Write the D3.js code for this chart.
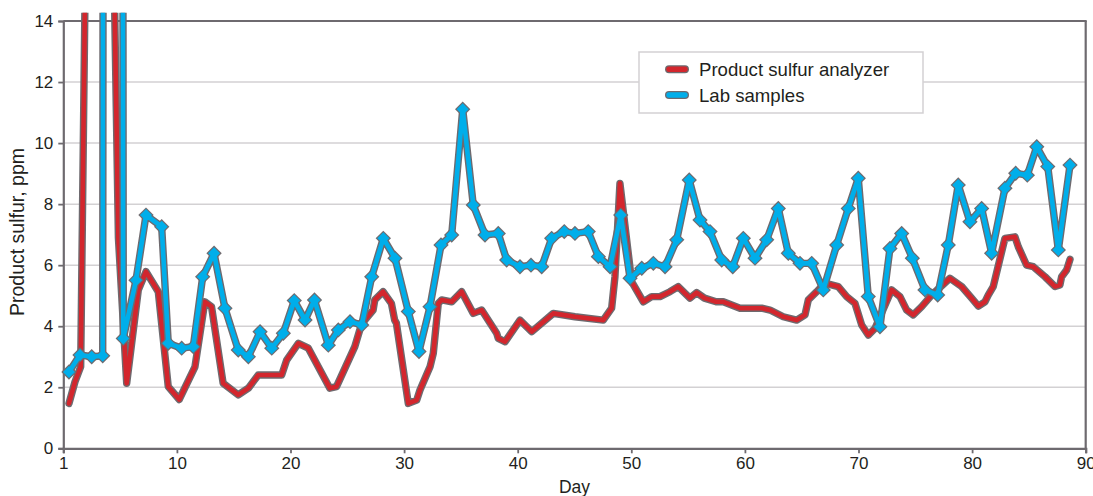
<!DOCTYPE html>
<html>
<head>
<meta charset="utf-8">
<script src="https://cdn.jsdelivr.net/npm/d3@7/dist/d3.min.js"></script>
<style>
  html, body { margin: 0; padding: 0; background: #fff; }
  svg { display: block; font-family: "Liberation Sans", Arial, Helvetica, sans-serif; }
</style>
</head>
<body>
<svg id="chart" width="1093" height="496"></svg>
<script>
// ---- data ----
const xTickValues = [0, 10, 20, 30, 40, 50, 60, 70, 80, 90];
const xTickLabels = ["1", "10", "20", "30", "40", "50", "60", "70", "80", "90"];
const yTickValues = [0, 2, 4, 6, 8, 10, 12, 14];

const seriesNames = ["Product sulfur analyzer", "Lab samples"];

// Product sulfur analyzer (values above 14 are off scale)
const analyzerDays = [0.5, 1.03, 1.53, 1.95, 4.45, 4.85, 5.58, 6.6, 7.28, 8.36, 9.24, 10.21, 11.59, 12.46, 13.05,
  14.07, 15.4, 16.29, 17.16, 19.22, 19.66, 20.69, 21.57, 23.46, 24.05, 25.66, 26.1, 26.54, 27.27, 27.42,
  28.15, 28.88, 29.17, 29.32, 30.37, 31.11, 31.4, 32.28, 32.57, 33.01, 33.31, 34.19, 35.07, 36.09, 36.83,
  38.15, 38.29, 38.88, 40.2, 41.23, 43.13, 45.04, 47.53, 48.27, 48.56, 49.0, 50.03, 51.06, 51.79, 52.52,
  53.4, 54.13, 55.16, 55.75, 56.44, 57.47, 58.1, 59.57, 61.48, 62.21, 63.38, 64.56, 65.29, 65.58, 66.32,
  67.04, 68.22, 68.96, 69.69, 70.28, 70.86, 71.45, 72.92, 73.65, 74.24, 74.82, 75.56, 76.44, 78.05, 79.08,
  79.96, 80.55, 81.13, 81.42, 81.86, 82.89, 83.77, 84.07, 84.8, 85.39, 86.42, 87.3, 87.73, 87.88, 88.32, 88.62];
const analyzerValues = [1.47, 2.18, 2.67, 16, 16, 6.9, 2.13, 5.18, 5.79, 5.13, 2.02, 1.6, 2.67, 4.8, 4.64,
  2.13, 1.75, 1.97, 2.4, 2.4, 2.89, 3.44, 3.28, 1.97, 2.02, 3.33, 3.88, 4.2, 4.53, 4.86,
  5.13, 4.75, 4.2, 4.1, 1.47, 1.58, 1.91, 2.67, 3.11, 4.75, 4.86, 4.8, 5.13, 4.42, 4.53,
  3.77, 3.6, 3.49, 4.2, 3.82, 4.42, 4.31, 4.2, 4.59, 5.62, 8.68, 5.46, 4.8, 4.97, 4.97,
  5.13, 5.3, 4.92, 5.1, 4.92, 4.8, 4.8, 4.59, 4.59, 4.53, 4.31, 4.2, 4.37, 4.86, 5.13,
  5.41, 5.3, 4.97, 4.75, 4.04, 3.71, 3.93, 5.19, 4.97, 4.53, 4.37, 4.64, 5.02, 5.57, 5.3,
  4.92, 4.66, 4.8, 5.02, 5.3, 6.88, 6.93, 6.6, 6.0, 5.95, 5.62, 5.3, 5.35, 5.62, 5.84, 6.19];

// Lab samples (values above 14 are off scale)
const labDays = [0.5, 1.47, 2.5, 3.47, 3.5, 5.25, 5.28, 6.4, 7.28, 8.66, 9.24, 10.42, 11.44, 12.27, 13.27,
  14.23, 15.4, 16.29, 17.32, 18.35, 19.37, 20.33, 21.28, 22.11, 23.33, 24.21, 25.24, 26.27, 27.15, 28.17,
  29.2, 30.37, 31.31, 32.28, 33.25, 34.19, 35.16, 36.09, 37.12, 38.29, 39.03, 40.2, 41.17, 42.11, 42.99,
  44.1, 45.04, 46.21, 47.1, 48.13, 49.07, 49.89, 50.92, 51.94, 52.97, 54.0, 55.1, 56.05, 56.93, 57.96,
  58.93, 59.86, 60.89, 61.92, 62.94, 63.82, 64.85, 65.88, 66.9, 68.08, 69.1, 69.98, 70.86, 71.89, 72.77,
  73.8, 74.74, 75.85, 76.97, 77.9, 78.78, 79.81, 80.84, 81.72, 82.89, 83.84, 84.86, 85.69, 86.66, 87.59, 88.62];
const labValues = [2.5, 3.06, 3.0, 3.03, 16, 16, 3.6, 5.51, 7.64, 7.26, 3.44, 3.28, 3.33, 5.62, 6.39,
  4.59, 3.22, 3.0, 3.82, 3.28, 3.77, 4.84, 4.2, 4.86, 3.38, 3.88, 4.15, 4.04, 5.62, 6.88,
  6.23, 4.48, 3.17, 4.64, 6.66, 6.99, 11.11, 7.97, 6.99, 7.04, 6.17, 5.95, 6.0, 5.95, 6.88,
  7.1, 7.04, 7.1, 6.28, 5.95, 7.64, 5.57, 5.9, 6.06, 5.95, 6.83, 8.79, 7.48, 7.1, 6.17,
  5.95, 6.88, 6.23, 6.83, 7.86, 6.39, 6.06, 6.06, 5.19, 6.66, 7.86, 8.85, 4.97, 3.98, 6.55,
  7.04, 6.23, 5.19, 5.02, 6.66, 8.63, 7.42, 7.86, 6.39, 8.52, 9.01, 8.95, 9.88, 9.23, 6.5, 9.28];

// ---- layout ----
const svg = d3.select("#chart");
const plotLeft = 63.3, plotRight = 1085.7, plotTop = 21, plotBottom = 448.3;
const x = d3.scaleLinear().domain([0, 90]).range([plotLeft, plotRight]);
const y = d3.scaleLinear().domain([0, 14]).range([plotBottom, plotTop]);

const axisColor = "#6e6a6f";
const gridColor = "#d3d1d3";
const outline = "#6e6a6f";
const red = "#d3262d";
const blue = "#00aeea";
const textColor = "#231f20";

// gridlines
svg.append("g")
  .selectAll("line")
  .data(yTickValues.filter(v => v > 0 && v < 14))
  .join("line")
  .attr("x1", plotLeft).attr("x2", plotRight)
  .attr("y1", d => y(d)).attr("y2", d => y(d))
  .attr("stroke", gridColor).attr("stroke-width", 1.5);

// frame top/right
svg.append("line").attr("x1", plotLeft).attr("x2", plotRight + 1).attr("y1", plotTop).attr("y2", plotTop)
  .attr("stroke", axisColor).attr("stroke-width", 2.2);
svg.append("line").attr("x1", plotRight).attr("x2", plotRight).attr("y1", plotTop).attr("y2", plotBottom)
  .attr("stroke", axisColor).attr("stroke-width", 2.2);

// axes
const yAxis = d3.axisLeft(y).tickValues(yTickValues).tickSize(5).tickPadding(5).tickFormat(d3.format("d"));
const xAxis = d3.axisBottom(x).tickValues(xTickValues).tickSize(5).tickPadding(4)
  .tickFormat((d, i) => xTickLabels[i]);

const gy = svg.append("g").attr("transform", `translate(${plotLeft},0)`).call(yAxis);
const gx = svg.append("g").attr("transform", `translate(0,${plotBottom})`).call(xAxis);
[gx, gy].forEach(g => {
  g.select(".domain").attr("stroke", axisColor).attr("stroke-width", 2.2);
  g.selectAll(".tick line").attr("stroke", axisColor).attr("stroke-width", 1.8);
  g.selectAll(".tick text").attr("fill", textColor).style("font-size", "17px")
    .style("font-family", "'Liberation Sans', Arial, sans-serif");
});

// axis titles
svg.append("text").attr("x", x(45)).attr("y", 493).attr("text-anchor", "middle")
  .attr("fill", textColor).style("font-size", "17.5px").text("Day");
svg.append("text").attr("transform", `translate(24,232) rotate(-90)`)
  .attr("text-anchor", "middle").attr("fill", textColor).style("font-size", "19.5px")
  .text("Product sulfur, ppm");

// clip for off-scale values
svg.append("clipPath").attr("id", "plotclip").append("rect")
  .attr("x", 0).attr("y", y(14.27)).attr("width", 1093).attr("height", 496);

const plot = svg.append("g").attr("clip-path", "url(#plotclip)");

const analyzer = analyzerDays.map((d, i) => ({ d, v: analyzerValues[i] }));
const lab = labDays.map((d, i) => ({ d, v: labValues[i] }));

const line = d3.line().x(p => x(p.d)).y(p => y(p.v)).curve(d3.curveLinear);

function drawLine(data, color) {
  plot.append("path").datum(data).attr("d", line).attr("fill", "none")
    .attr("stroke", outline).attr("stroke-width", 7.4)
    .attr("stroke-linejoin", "round").attr("stroke-linecap", "round");
  plot.append("path").datum(data).attr("d", line).attr("fill", "none")
    .attr("stroke", color).attr("stroke-width", 4.6)
    .attr("stroke-linejoin", "round").attr("stroke-linecap", "round");
}

drawLine(analyzer, red);

// lab samples: outline layer (line + diamonds), then color layer
const labMarkers = lab.filter(p => p.v <= 14);
const diamond = (s) => d3.symbol().type(d3.symbolSquare).size(s)();
plot.append("path").datum(lab).attr("d", line).attr("fill", "none")
  .attr("stroke", outline).attr("stroke-width", 7.4)
  .attr("stroke-linejoin", "round").attr("stroke-linecap", "round");
plot.append("g").selectAll("path").data(labMarkers).join("path")
  .attr("d", diamond(118))
  .attr("transform", p => `translate(${x(p.d)},${y(p.v)}) rotate(45)`)
  .attr("fill", outline);
plot.append("path").datum(lab).attr("d", line).attr("fill", "none")
  .attr("stroke", blue).attr("stroke-width", 4.6)
  .attr("stroke-linejoin", "round").attr("stroke-linecap", "round");
plot.append("g").selectAll("path").data(labMarkers).join("path")
  .attr("d", diamond(72))
  .attr("transform", p => `translate(${x(p.d)},${y(p.v)}) rotate(45)`)
  .attr("fill", blue);

// legend
const lg = svg.append("g");
lg.append("rect").attr("x", 639).attr("y", 52).attr("width", 284).attr("height", 61)
  .attr("fill", "#fff").attr("stroke", gridColor).attr("stroke-width", 1.5);
const legendItems = [{ name: seriesNames[0], color: red, cy: 69.3, by: 76 },
                     { name: seriesNames[1], color: blue, cy: 95, by: 101.5 }];
legendItems.forEach(it => {
  lg.append("line").attr("x1", 669).attr("x2", 685).attr("y1", it.cy).attr("y2", it.cy)
    .attr("stroke", outline).attr("stroke-width", 8).attr("stroke-linecap", "round");
  lg.append("line").attr("x1", 669).attr("x2", 685).attr("y1", it.cy).attr("y2", it.cy)
    .attr("stroke", it.color).attr("stroke-width", 5.4).attr("stroke-linecap", "round");
  lg.append("text").attr("x", 699).attr("y", it.by).attr("fill", textColor)
    .style("font-size", "18.6px").text(it.name);
});
</script>
</body>
</html>
